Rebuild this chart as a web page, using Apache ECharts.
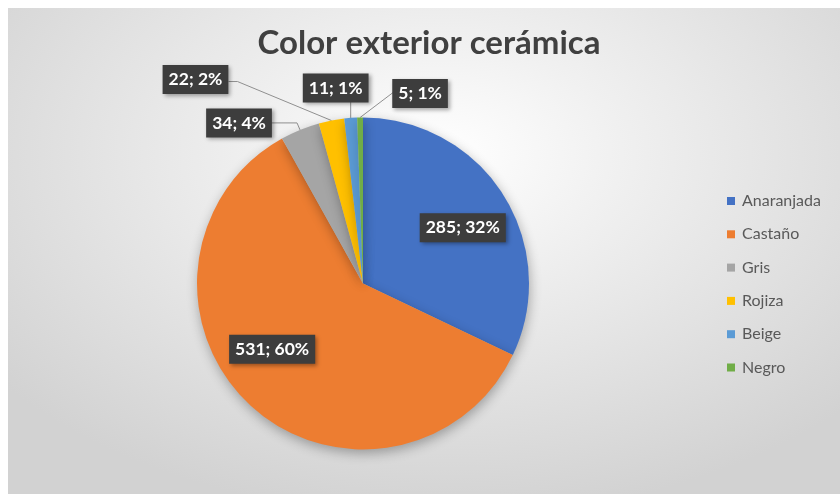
<!DOCTYPE html>
<html>
<head>
<meta charset="utf-8">
<script src="https://cdn.jsdelivr.net/npm/echarts@6/dist/echarts.min.js"></script>
<style>
  html, body { margin: 0; padding: 0; background: #ffffff; }
  #frame {
    position: absolute; left: 8px; top: 8px; width: 832px; height: 486px;
    background: radial-gradient(ellipse 68% 75% at 52% 30%, #ffffff 0%, #f0f0f0 32%, #d2d2d2 100%);
  }
  #chart { width: 832px; height: 486px; }
</style>
</head>
<body>
<div id="frame"><div id="chart"></div></div>
<script>
// Ceramic exterior colour counts
const categories = ['Anaranjada', 'Castaño', 'Gris', 'Rojiza', 'Beige', 'Negro'];
const counts = [285, 531, 34, 22, 11, 5];
const sliceColors = ['#4472C4', '#ED7D31', '#A5A5A5', '#FFC000', '#5B9BD5', '#70AD47'];

// Where each value box sits: inside boxes are nudged from the default spot,
// outside boxes are placed relative to the slice's rim point with a leader line.
const labelPlacement = [
  { inside: true, dx: 27, dy: -10 },
  { inside: true, dx: -32, dy: 3 },
  { inside: false, box: [-61, -7], bend: [-3, -7], end: [-29, -7] },
  { inside: false, box: [-136, -41], bend: [-94, -39], end: [-103, -39] },
  { inside: false, box: [-15, -30], bend: [0, -16], end: [0, -16] },
  { inside: false, box: [60, -24], bend: [33, -25], end: [33, -25] }
];

const total = counts.reduce((a, b) => a + b, 0);

const chart = echarts.init(document.getElementById('chart'), null, { renderer: 'canvas' });

const pieData = categories.map((name, i) => ({
  name: name,
  value: counts[i],
  itemStyle: { color: sliceColors[i] },
  label: { position: labelPlacement[i].inside ? 'inside' : 'outside' },
  labelLine: { show: !labelPlacement[i].inside }
}));

chart.setOption({
  backgroundColor: 'transparent',
  animation: false,
  title: {
    text: 'Color exterior cerámica',
    left: 421,
    textAlign: 'center',
    top: 19,
    padding: 0,
    textStyle: { fontFamily: 'Lato', fontWeight: 'bold', fontSize: 33, color: '#404040' }
  },
  legend: {
    orient: 'vertical',
    left: 719,
    top: 184,
    padding: 0,
    itemWidth: 8,
    itemHeight: 8,
    itemGap: 15.3,
    icon: 'rect',
    data: categories,
    textStyle: { fontFamily: 'Lato', fontSize: 16, color: '#595959', lineHeight: 18, padding: [0, 0, 0, 2] }
  },
  series: [{
    type: 'pie',
    center: [355, 275.5],
    radius: [0, 166],
    startAngle: 90,
    clockwise: true,
    avoidLabelOverlap: false,
    data: pieData,
    itemStyle: {
      shadowBlur: 12,
      shadowOffsetX: 1,
      shadowOffsetY: 4,
      shadowColor: 'rgba(0,0,0,0.3)'
    },
    label: {
      show: true,
      formatter: p => p.value + '; ' + Math.round(p.value / total * 100) + '%',
      color: '#ffffff',
      fontFamily: 'Lato',
      fontWeight: 'bold',
      fontSize: 17.5,
      backgroundColor: '#3d3d3d',
      padding: [6, 6, 5, 6],
      shadowBlur: 4,
      shadowOffsetX: 2,
      shadowOffsetY: 2,
      shadowColor: 'rgba(0,0,0,0.35)'
    },
    labelLine: {
      show: true,
      length: 10,
      length2: 10,
      smooth: false,
      lineStyle: { color: '#8f8f8f', width: 1 }
    },
    labelLayout: function (p) {
      const spec = labelPlacement[p.dataIndex];
      const r = p.labelRect;
      const cx = r.x + r.width / 2;
      const cy = r.y + r.height / 2;
      if (spec.inside) {
        return { x: cx + spec.dx, y: cy + spec.dy, align: 'center', verticalAlign: 'middle' };
      }
      const a = p.labelLinePoints[0];
      return {
        x: a[0] + spec.box[0],
        y: a[1] + spec.box[1],
        align: 'center',
        verticalAlign: 'middle',
        labelLinePoints: [
          [a[0], a[1]],
          [a[0] + spec.bend[0], a[1] + spec.bend[1]],
          [a[0] + spec.end[0], a[1] + spec.end[1]]
        ]
      };
    }
  }]
});
</script>
</body>
</html>
